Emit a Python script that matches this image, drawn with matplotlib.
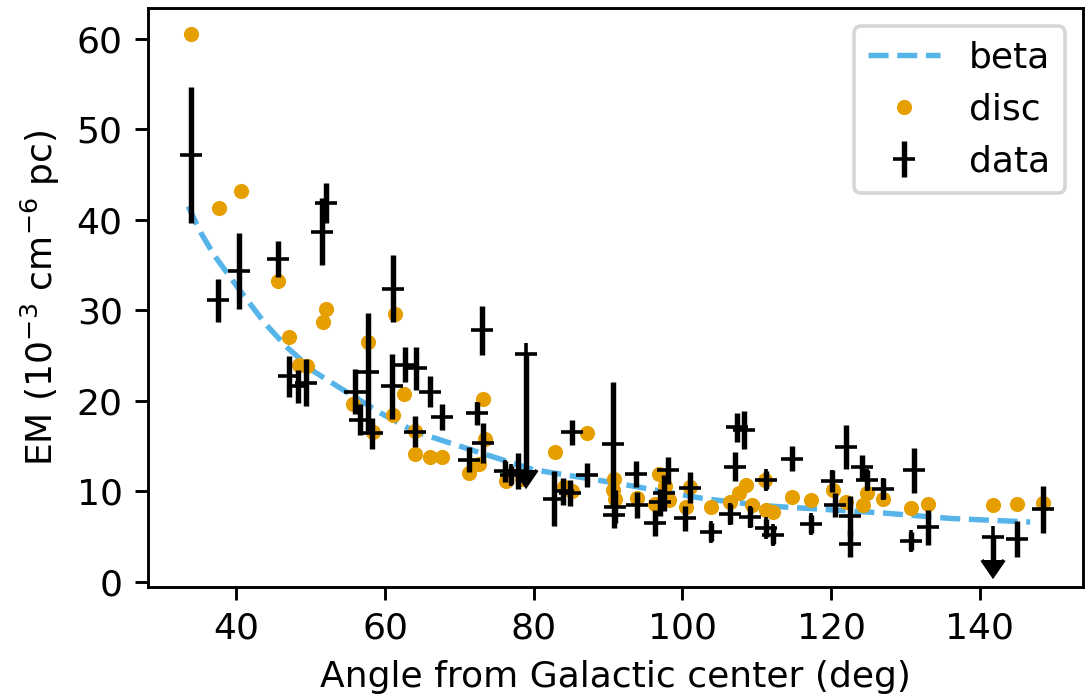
import numpy as np
import matplotlib
matplotlib.use('Agg')
import matplotlib.pyplot as plt

# beta model curve
beta_x = [33.5, 35.2, 37.0, 40.2, 43.8, 46.7, 50.5, 53.6, 59.5, 64.0, 70.0,
          79.9, 91.1, 102.8, 111.0, 127.0, 136.0, 146.8]
beta_y = [41.5, 38.6, 36.1, 32.5, 28.6, 26.0, 23.2, 21.6, 18.6, 16.6, 15.0,
          12.4, 10.9, 9.2, 8.4, 7.6, 7.0, 6.6]

# disc model
disc_x = [33.9, 37.6, 40.6, 45.6, 47.1, 48.4, 49.5, 51.6, 52.1, 55.7, 57.7,
          58.4, 61.0, 61.4, 62.6, 64.0, 64.0, 66.0, 67.6, 71.3, 72.6, 73.2,
          73.4, 76.3, 78.4, 82.8, 84.1, 85.2, 87.2, 90.8, 90.7, 90.9, 93.9,
          96.8, 97.7, 98.2, 96.3, 100.5, 101.0, 103.9, 106.4, 107.6, 108.6,
          109.3, 111.1, 111.3, 112.2, 114.8, 117.3, 120.2, 122.0, 124.3,
          124.8, 127.0, 130.8, 133.1, 141.8, 145.0, 148.5]
disc_y = [60.6, 41.3, 43.2, 33.2, 27.1, 24.0, 23.8, 28.7, 30.1, 19.7, 26.5,
          16.6, 18.4, 29.6, 20.8, 16.7, 14.1, 13.8, 13.8, 12.0, 13.0, 20.2,
          15.8, 11.1, 11.4, 14.3, 10.5, 10.0, 16.4, 11.4, 10.1, 9.2, 9.3,
          11.9, 10.6, 9.0, 8.6, 8.3, 10.5, 8.3, 8.8, 9.8, 10.7,
          8.5, 11.2, 7.9, 7.7, 9.4, 9.0, 10.1, 8.8, 8.5,
          9.8, 9.2, 8.1, 8.6, 8.5, 8.6, 8.7]

# measurements
data_x = [33.9, 37.5, 40.4, 45.6, 47.1, 48.3, 49.3, 51.5, 52.0, 55.9, 56.6,
          57.7, 58.2, 60.9, 61.1, 62.7, 64.2, 64.0, 66.0, 67.6, 71.3, 72.4,
          73.1, 73.2, 76.1, 77.0, 77.9, 79.0, 82.7, 84.0, 84.9, 85.1, 87.1,
          90.7, 91.0, 90.8, 93.8, 93.9, 96.3, 97.0, 97.5, 98.1, 100.3, 101.0,
          103.8, 106.4, 107.1, 107.3, 108.3, 109.1, 111.2, 111.3, 112.2,
          114.7, 117.3, 120.1, 120.5, 122.0, 122.6, 122.5, 124.1, 124.8,
          127.0, 131.1, 130.7, 133.1, 141.8, 145.0, 148.5]
data_y = [47.2, 31.1, 34.4, 35.7, 22.7, 21.6, 22.0, 38.7, 41.9, 21.0, 17.9,
          23.2, 16.4, 21.6, 32.4, 24.0, 23.6, 16.6, 21.0, 18.2, 13.5, 18.6,
          27.8, 15.3, 12.2, 11.8, 12.2, 25.2, 9.2, 10.0, 9.8, 16.5, 11.8,
          15.2, 8.3, 7.4, 11.9, 8.5, 6.5, 8.8, 9.8, 12.3, 7.0, 10.4,
          5.5, 7.5, 12.7, 17.1, 16.8, 7.2, 11.2, 5.9, 5.2,
          13.6, 6.4, 11.1, 8.5, 14.9, 7.3, 4.2, 12.7, 11.2,
          10.3, 12.3, 4.5, 6.0, 5.0, 4.7, 8.0]
data_err = [7.5, 2.4, 4.2, 2.0, 2.3, 1.8, 2.6, 3.7, 2.2, 2.5, 1.7,
            6.5, 1.7, 3.6, 3.7, 1.9, 2.4, 1.7, 1.7, 1.4, 1.4, 1.3,
            2.7, 2.2, 1.2, 1.0, 2.0, 12.8, 3.0, 1.5, 1.4, 1.4, 1.3,
            6.9, 1.8, 1.5, 1.4, 1.4, 1.4, 1.5, 2.0, 1.5, 1.4, 1.7,
            1.0, 1.1, 1.6, 1.6, 2.1, 1.1, 1.0, 1.0, 1.0,
            1.4, 1.0, 1.2, 1.3, 2.4, 2.2, 1.5, 1.3, 1.1,
            1.2, 2.5, 1.0, 1.9, 2.6, 2.0, 2.6]
upper_limit = np.zeros(len(data_x), dtype=bool)
upper_limit[[27, 66]] = True  # points at ~79 and ~142 deg are upper limits

dx = np.array(data_x)
dy = np.array(data_y)
de = np.array(data_err)
det = ~upper_limit

dpi = 260
fig = plt.figure(figsize=(1087 / dpi, 696 / dpi), dpi=dpi)
ax = fig.add_axes([148 / 1087, 1 - 586.7 / 696, 935 / 1087, 578.4 / 696])

ax.plot(beta_x, beta_y, '--', color='#56B4E9', label='beta')
ax.plot(disc_x, disc_y, 'o', color='#E69F00', ms=4.2, mew=0, label='disc')
ax.errorbar(dx[det], dy[det], yerr=de[det], fmt='+', color='k', label='data')
# upper limits, drawn with a down arrow
ax.errorbar(dx[upper_limit], dy[upper_limit], yerr=de[upper_limit],
            uplims=True, fmt='+', color='k')

ax.set_xlim(28.1, 153.9)
ax.set_ylim(-0.55, 63.4)
ax.set_xlabel('Angle from Galactic center (deg)')
ax.set_ylabel(r'EM (10$^{-3}$ cm$^{-6}$ pc)')
ax.legend(loc='upper right')

fig.savefig('out.png', dpi=dpi)
